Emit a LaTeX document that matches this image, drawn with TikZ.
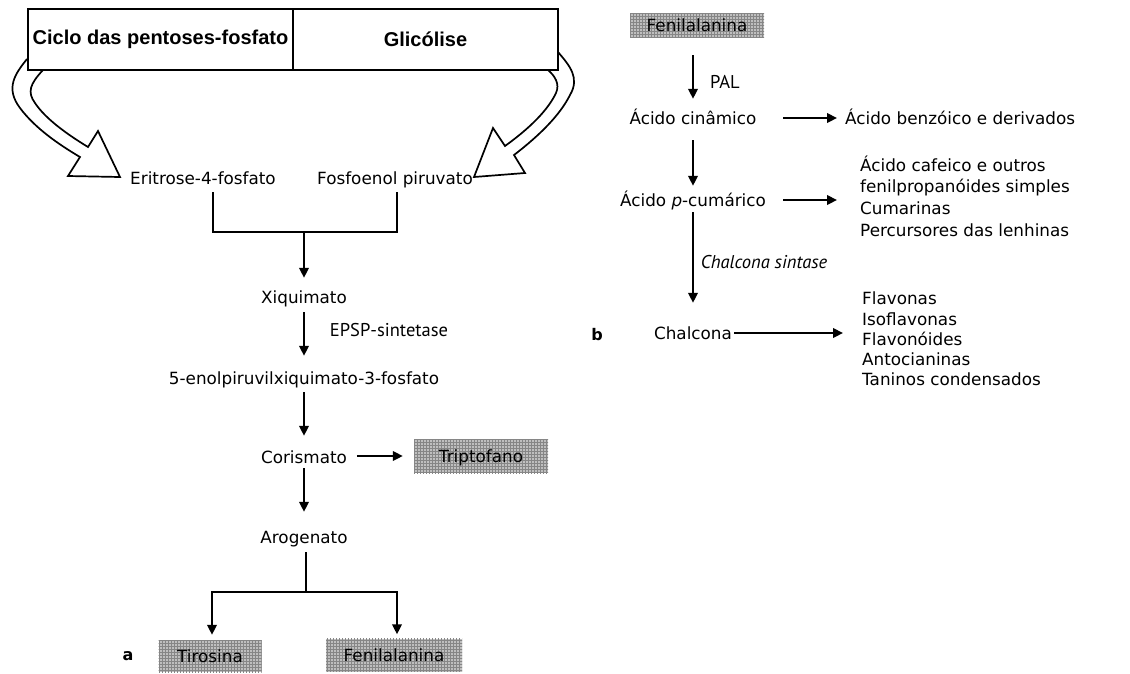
\documentclass[tikz,border=0pt]{standalone}
\usepackage{fontspec}
\setmainfont{DejaVu Sans}
\newfontfamily\headfont{Liberation Sans}
\newfontfamily\enzfont{PT Sans}
\usepackage{tikz}
\usetikzlibrary{arrows.meta}
\usetikzlibrary{patterns}

\tikzset{
  met/.style={inner sep=0pt, text height=12pt, text depth=0pt, font=\fontsize{16.8}{20}\selectfont},
  prod/.style={met, preaction={fill=gray!50}, pattern=grid, pattern color=gray!95},
  lst/.style={inner sep=0pt, anchor=west, align=left},
  hdr/.style={draw, line width=2pt, minimum height=61pt, inner sep=0pt,
    font=\headfont\bfseries\fontsize{20}{24}\selectfont},
  enz/.style={inner sep=0pt, font=\enzfont\fontsize{18.5}{21}\selectfont},
  lbl/.style={inner sep=0pt, font=\bfseries\fontsize{16}{19}\selectfont},
  conn/.style={line width=2.2pt},
  arr/.style={conn, -{Triangle[length=10pt,width=9.5pt]}},
  hollow/.style={line width=1.7pt, fill=white, line join=miter}
}

\begin{document}
\begin{tikzpicture}[x=1pt,y=-1pt]
\useasboundingbox (0,0) rectangle (1130,673);

% (a) shikimate pathway
\draw[hollow] (27,59) .. controls (15,74) and (5,88) .. (20,108)
  .. controls (35,128) and (58,144) .. (80,157) -- (68,176) -- (120,177)
  -- (98,131) -- (88,147) .. controls (65,133) and (45,118) .. (35,103)
  .. controls (27,92) and (30,84) .. (43,70);
\draw[hollow] (558,52) .. controls (570,66) and (580,78) .. (570,95)
  .. controls (560,115) and (540,135) .. (514,155) -- (525,173) -- (474,177)
  -- (493,128) -- (505,146) .. controls (530,128) and (548,110) .. (556,93)
  .. controls (560,84) and (555,76) .. (548,70);
\node[hdr, minimum width=265pt] (ppf) at (160.5,39.5) {Ciclo das pentoses-fosfato};
\node[hdr, minimum width=265pt] (gli) at (425.5,39.5) {Glicólise};

\node[met] (eri) at (203,178) {Eritrose-4-fosfato};
\node[met] (fos) at (395,178) {Fosfoenol piruvato};
\coordinate (jn) at (304,232);
\draw[conn] ([xshift=10pt,yshift=-8pt]eri.south) |- (jn) -| ([xshift=2pt,yshift=-8pt]fos.south);

\node[met] (xiq) at (304,297) {Xiquimato};
\node[met] (enol) at (304,378) {5-enolpiruvilxiquimato-3-fosfato};
\node[met] (cor) at (304,457) {Corismato};
\node[met] (aro) at (304,537) {Arogenato};
\node[enz] (epsp) at (389,330) {EPSP-sintetase};
\node[prod, minimum width=134pt, minimum height=34pt] (trp) at (481,456) {Triptofano};
\node[prod, minimum width=103pt, minimum height=32pt] (tyr) at (210,656) {Tirosina};
\node[prod, minimum width=136pt, minimum height=33pt] (phe) at (394,655) {Fenilalanina};
\node[lbl] (a) at (128,656) {a};

\draw[arr, shorten >=13pt] (jn) -- (xiq);
\draw[arr, shorten <=9pt, shorten >=16pt] (xiq) -- (enol);
\draw[arr, shorten <=8pt, shorten >=15pt] (enol) -- (cor);
\draw[arr, shorten <=5pt, shorten >=19pt] (cor) -- (aro);
\draw[arr] ([xshift=-57pt]trp.west) -- ([xshift=-11pt]trp.west);
\coordinate (sp) at (306,592);
\draw[conn] ([xshift=2pt,yshift=-9pt]aro.south) -- (sp);
\draw[arr] (sp) -| ([xshift=2pt,yshift=5pt]tyr.north);
\draw[arr] (sp) -| ([xshift=3pt,yshift=4pt]phe.north);

% (b) phenylpropanoids
\node[prod, minimum width=134pt, minimum height=24pt] (phe2) at (697,25) {Fenilalanina};
\node[met] (cin) at (693,118) {Ácido cinâmico};
\node[met] (cum) at (693,200) {Ácido \textit{p}-cumárico};
\node[met] (chal) at (693,333) {Chalcona};
\node[enz] (pal) at (725,82) {PAL};
\node[enz] (chs) at (764,262) {\itshape Chalcona sintase};
\node[met, anchor=west] (benz) at (845,118) {Ácido benzóico e derivados};
\node[lst, font=\fontsize{16.8}{21.7}\selectfont] (lst1) at (860,196)
  {Ácido cafeico e outros\\fenilpropanóides simples\\Cumarinas\\Percursores das lenhinas};
\node[lst, font=\fontsize{16.8}{20.25}\selectfont] (lst2) at (862,339)
  {Flavonas\\Isoflavonas\\Flavonóides\\Antocianinas\\Taninos condensados};
\node[lbl] (b) at (597,335) {b};

\draw[arr, shorten <=18pt, shorten >=13pt] (phe2.south -| cin.north) -- (cin.north);
\draw[arr, shorten <=16pt, shorten >=8pt] (cin) -- (cum);
\draw[arr, shorten <=6pt, shorten >=24pt] (cum) -- (chal);
\draw[arr] ([xshift=-62pt]benz.west) -- ([xshift=-8pt]benz.west);
\coordinate (l1) at (lst1.west |- cum.east);
\draw[arr] ([xshift=-77pt]l1) -- ([xshift=-23pt]l1);
\coordinate (l2) at (lst2.west |- chal.east);
\draw[arr] ([xshift=-128pt]l2) -- ([xshift=-19pt]l2);
\end{tikzpicture}
\end{document}
